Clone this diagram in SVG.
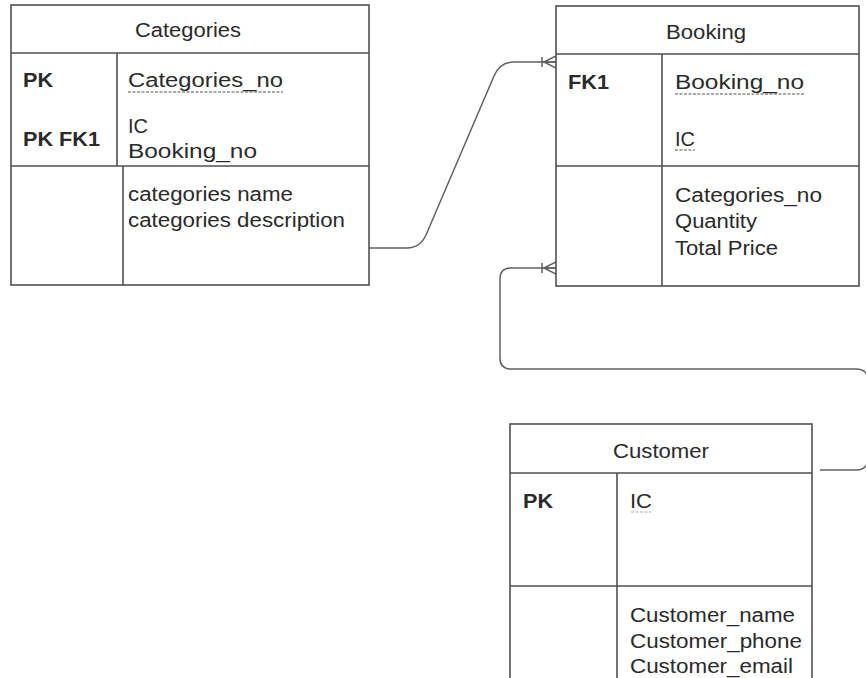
<svg xmlns="http://www.w3.org/2000/svg" width="866" height="678" viewBox="0 0 866 678">
<style>
.box{fill:#fff;stroke:#505050;stroke-width:1.6}
.ln{fill:none;stroke:#505050;stroke-width:1.6}
.con{fill:none;stroke:#606060;stroke-width:1.5}
.ul{stroke:#555;stroke-width:1.2;stroke-dasharray:3 1.5}
text{font-family:"Liberation Sans",Arial,sans-serif;font-size:19.5px;fill:#2a2a2a}
.b{font-weight:bold}
</style>
<defs>
<marker id="crow" markerUnits="userSpaceOnUse" viewBox="0 0 20 20" refX="20" refY="10" markerWidth="20" markerHeight="20" orient="auto">
<path d="M6,5 L6,15 M8,10 L20,4 M8,10 L20,16 M6,10 L20,10" fill="none" stroke="#606060" stroke-width="1.5"/>
</marker>
</defs>
<rect width="866" height="678" fill="#fff"/>
<g id="connectors">
<path class="con" d="M369,248 L407,248 Q420,248 426,235 L494,76 Q500,62 514,62 L556,62" marker-end="url(#crow)"/>
<path class="con" d="M820,470 L856,470 Q868,470 868,458 L868,381 Q868,369 856,369 L511,369 Q500,369 500,358 L500,279 Q500,268 511,268 L556,268" marker-end="url(#crow)"/>
</g>
<g id="categories">
<rect class="box" x="11" y="5" width="358" height="280"/>
<path class="ln" d="M11,53 H369 M11,166 H369 M117,53 V166 M123,166 V285"/>
<text x="135" y="37" textLength="106" lengthAdjust="spacingAndGlyphs">Categories</text>
<text class="b" x="23" y="87" textLength="30" lengthAdjust="spacingAndGlyphs">PK</text>
<text x="128" y="87" textLength="155" lengthAdjust="spacingAndGlyphs">Categories_no</text>
<line class="ul" x1="128" y1="92" x2="283" y2="92"/>
<text class="b" x="23" y="146" textLength="77" lengthAdjust="spacingAndGlyphs">PK FK1</text>
<text x="128" y="133" textLength="20" lengthAdjust="spacingAndGlyphs">IC</text>
<text x="128" y="158" textLength="129" lengthAdjust="spacingAndGlyphs">Booking_no</text>
<text x="128" y="201" textLength="165" lengthAdjust="spacingAndGlyphs">categories name</text>
<text x="128" y="227" textLength="217" lengthAdjust="spacingAndGlyphs">categories description</text>
</g>
<g id="booking">
<rect class="box" x="556" y="6" width="303" height="280"/>
<path class="ln" d="M556,54 H859 M556,166 H859 M662,54 V286"/>
<text x="666" y="39" textLength="80" lengthAdjust="spacingAndGlyphs">Booking</text>
<text class="b" x="568" y="89" textLength="41" lengthAdjust="spacingAndGlyphs">FK1</text>
<text x="675" y="89" textLength="129" lengthAdjust="spacingAndGlyphs">Booking_no</text>
<line class="ul" x1="675" y1="94" x2="804" y2="94"/>
<text x="675" y="146" textLength="20" lengthAdjust="spacingAndGlyphs">IC</text>
<line class="ul" x1="675" y1="150" x2="695" y2="150"/>
<text x="675" y="202" textLength="147" lengthAdjust="spacingAndGlyphs">Categories_no</text>
<text x="675" y="228" textLength="82" lengthAdjust="spacingAndGlyphs">Quantity</text>
<text x="675" y="255" textLength="103" lengthAdjust="spacingAndGlyphs">Total Price</text>
</g>
<g id="customer">
<rect class="box" x="510" y="424" width="302" height="270"/>
<path class="ln" d="M510,473 H812 M510,586 H812 M617,473 V694"/>
<text x="613" y="458" textLength="96" lengthAdjust="spacingAndGlyphs">Customer</text>
<text class="b" x="523" y="508" textLength="30" lengthAdjust="spacingAndGlyphs">PK</text>
<text x="630" y="508" textLength="22" lengthAdjust="spacingAndGlyphs">IC</text>
<line class="ul" x1="631" y1="512" x2="651" y2="512" stroke-opacity="0.5"/>
<text x="630" y="622" textLength="165" lengthAdjust="spacingAndGlyphs">Customer_name</text>
<text x="630" y="648" textLength="172" lengthAdjust="spacingAndGlyphs">Customer_phone</text>
<text x="630" y="673" textLength="163" lengthAdjust="spacingAndGlyphs">Customer_email</text>
</g>
</svg>
